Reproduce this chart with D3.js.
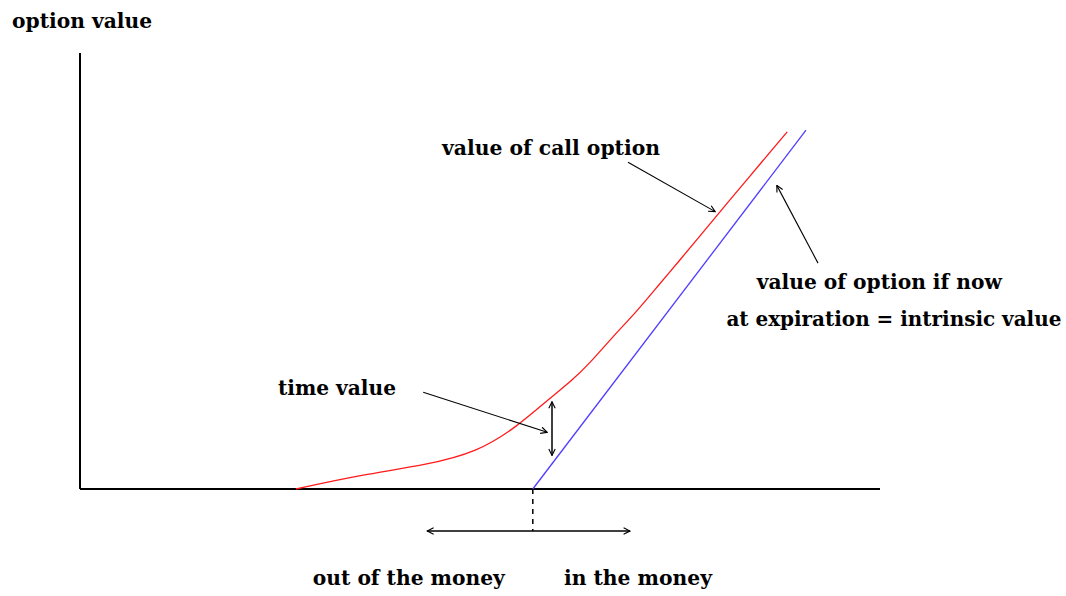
<!DOCTYPE html>
<html>
<head>
<meta charset="utf-8">
<script src="https://cdn.jsdelivr.net/npm/d3@7"></script>
<style>
  body { margin: 0; background: #fff; }
  svg text { font-family: "DejaVu Serif", serif; font-weight: bold; font-size: 20px; fill: #000; }
</style>
</head>
<body>
<div id="chart"></div>
<script>
// stock price (x) and option value (y)
const strike = 56.6;
const intrinsicPrice = [56.6, 90.75];
const callPrice = [27, 35, 43.4, 49.6, 54.6, 58.75, 61.6, 63.75, 66.6, 69.6, 72.1, 75, 77.5, 80, 88.4];
const callValue = [0, 1.33, 2.3, 3.5, 5.9, 8.66, 10.4, 12.0, 14.5, 16.9, 19.2, 21.8, 24.1, 26.4, 34.0];

const labels = ['option value', 'value of call option', 'value of option if now',
  'at expiration = intrinsic value', 'time value', 'out of the money', 'in the money'];

const width = 1066, height = 596;
const svg = d3.select('#chart').append('svg')
    .attr('width', width).attr('height', height);

const x = d3.scaleLinear().domain([0, 100]).range([80, 880]);
const y = d3.scaleLinear().domain([0, 41.5]).range([489, 53]);

const defs = svg.append('defs');
defs.append('marker')
    .attr('id', 'vee').attr('viewBox', '0 0 10 10')
    .attr('refX', 9).attr('refY', 5)
    .attr('markerWidth', 8).attr('markerHeight', 8)
    .attr('markerUnits', 'userSpaceOnUse')
    .attr('orient', 'auto-start-reverse')
  .append('path')
    .attr('d', 'M1,1 L9,5 L1,9')
    .attr('fill', 'none').attr('stroke', '#000').attr('stroke-width', 1.4);

// axes (plain lines, no ticks)
svg.append('line')
    .attr('x1', x(0)).attr('y1', y(0)).attr('x2', x(0)).attr('y2', y(41.5))
    .attr('stroke', '#000').attr('stroke-width', 2);
svg.append('line')
    .attr('x1', x(0)).attr('y1', y(0)).attr('x2', x(100)).attr('y2', y(0))
    .attr('stroke', '#000').attr('stroke-width', 2);

// intrinsic value
svg.append('line')
    .attr('x1', x(intrinsicPrice[0])).attr('y1', y(0))
    .attr('x2', x(intrinsicPrice[1])).attr('y2', y(intrinsicPrice[1] - strike))
    .attr('stroke', '#4f3bff').attr('stroke-width', 1.3);

// call value
const line = d3.line().x(d => x(d[0])).y(d => y(d[1])).curve(d3.curveBasis);
svg.append('path')
    .datum(callPrice.map((p, i) => [p, callValue[i]]))
    .attr('d', line)
    .attr('fill', 'none').attr('stroke', '#ff1a1a').attr('stroke-width', 1.3);

// strike marker and money range
svg.append('line')
    .attr('x1', x(strike)).attr('y1', y(0)).attr('x2', x(strike)).attr('y2', y(-4))
    .attr('stroke', '#000').attr('stroke-width', 1.5).attr('stroke-dasharray', '5,5');

function arrow(a, b, both) {
  svg.append('line')
      .attr('x1', x(a[0])).attr('y1', y(a[1])).attr('x2', x(b[0])).attr('y2', y(b[1]))
      .attr('stroke', '#000').attr('stroke-width', both ? 1.5 : 1.1)
      .attr('marker-end', 'url(#vee)')
      .attr('marker-start', both ? 'url(#vee)' : null);
}
arrow([43.4, -4], [68.75, -4], true);
arrow([59, 8.3], [59, 3.2], true);
arrow([68.5, 31.1], [79.4, 26.4]);
arrow([92.25, 21.5], [87.1, 28.9]);
arrow([42.9, 9.2], [58.4, 5.4]);

// labels, anchored in data units, stretched to the widths seen in the picture
const labelPos = [[-8.5, 43.9], [45.25, 31.8], [84.6, 19], [80.8, 15.5], [24.75, 8.95], [29.1, -9.1], [60.5, -9.1]];
const labelWidth = [140, 218, 245, 335, 118, 192, 148];
svg.selectAll('text.lbl').data(labels).join('text')
    .attr('class', 'lbl')
    .attr('x', (d, i) => x(labelPos[i][0]))
    .attr('y', (d, i) => y(labelPos[i][1]))
    .attr('textLength', (d, i) => labelWidth[i])
    .attr('lengthAdjust', 'spacingAndGlyphs')
    .text(d => d);
</script>
</body>
</html>
